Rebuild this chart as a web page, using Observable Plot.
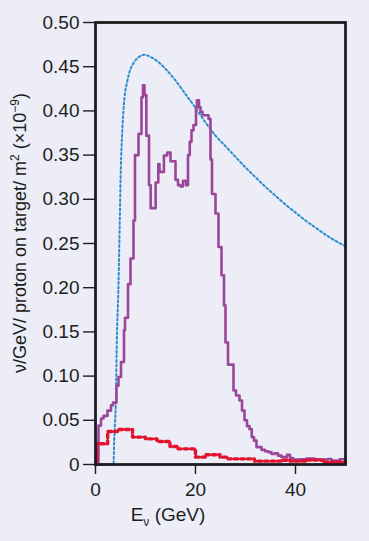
<!DOCTYPE html>
<html><head><meta charset="utf-8">
<script src="https://cdn.jsdelivr.net/npm/d3@7"></script>
<script src="https://cdn.jsdelivr.net/npm/@observablehq/plot@0.6"></script>
<style>
html,body{margin:0;padding:0;background:#ecedf6;}
#chart svg{display:block;}
</style></head><body><div id="chart"></div>
<script>
// Purple histogram: bin start energy (GeV) and value
const purpleEdges = [0.0,0.6,1.1,1.6,2.4,3.1,3.5,4.2,4.6,5.1,5.7,5.9,6.5,7.0,7.6,7.9,8.6,9.2,9.5,9.8,10.17,10.7,11.03,12.03,12.56,12.8,13.02,13.68,14.35,15.0,16.0,16.5,17.0,17.5,18.1,18.5,18.85,19.2,19.6,20.1,20.3,20.7,21.0,21.4,22.6,23.0,23.3,24.0,24.6,25.2,25.7,26.0,26.5,27.6,28.1,28.8,29.3,29.8,30.3,30.8,31.25,31.7,32.2,33.2,33.9,34.55,35.2,35.9,36.5,37.2,38.3,38.9,39.5,40.9,42.2,43.8,44.8,46.5,47.2,48.2,48.8,49.5];
const purpleValues = [0.003,0.044,0.052,0.055,0.061,0.067,0.070,0.089,0.099,0.116,0.152,0.166,0.204,0.233,0.276,0.350,0.374,0.4155,0.429,0.418,0.372,0.316,0.290,0.319,0.340,0.331,0.331,0.3496,0.353,0.343,0.322,0.316,0.3145,0.321,0.316,0.350,0.365,0.378,0.384,0.404,0.412,0.404,0.399,0.395,0.391,0.345,0.306,0.284,0.246,0.214,0.180,0.138,0.113,0.0837,0.078,0.0724,0.061,0.050,0.0434,0.040,0.031,0.027,0.0196,0.0166,0.015,0.014,0.012,0.0128,0.010,0.0083,0.011,0.0074,0.0057,0.006,0.0068,0.006,0.0057,0.0063,0.0045,0.004,0.006,0.006];
// Red histogram
const redEdges = [0.0,0.25,2.43,4.4,7.4,10.0,12.3,14.9,16.5,20.0,22.0,24.9,26.5,31.8,37.1,38.9,42.2,45.5];
const redValues = [0,0.0234,0.0373,0.0396,0.031,0.029,0.026,0.0204,0.0177,0.0083,0.011,0.0083,0.0064,0.0038,0.0048,0.0038,0.005,0.0025];
// Blue dotted curve
const blueE = [1.0,3.4,3.6,3.74,4.08,4.27,4.6,4.87,5.07,5.3,5.5,5.8,6.3,6.7,7.7,8.7,9.8,11,12,14,16,18,20,22,24,26,28,30,32,34,36,38,40,42,44,46,48,50];
const blueV = [0,0,0.001,0.027,0.076,0.14,0.204,0.28,0.336,0.37,0.393,0.415,0.432,0.442,0.455,0.461,0.4635,0.461,0.4578,0.4476,0.4344,0.419,0.4035,0.387,0.372,0.360,0.348,0.336,0.325,0.314,0.304,0.294,0.285,0.276,0.268,0.260,0.253,0.247];
// Ticks
const xTicks = [0,20,40];
const xTickLabels = ["0","20","40"];
const yTicks = [0,0.05,0.10,0.15,0.20,0.25,0.30,0.35,0.40,0.45,0.50];
const yTickLabels = ["0","0.05","0.10","0.15","0.20","0.25","0.30","0.35","0.40","0.45","0.50"];

const xMax = 50;
const purple = purpleEdges.map((e,i)=>({E:e, v:purpleValues[i]}));
purple.push({E:xMax, v:purpleValues[purpleValues.length-1]});
const red = redEdges.map((e,i)=>({E:e, v:redValues[i]}));
red.push({E:xMax, v:redValues[redValues.length-1]});
const blue = blueE.map((e,i)=>({E:e, v:blueV[i]}));

const font = "'Liberation Sans', Arial, sans-serif";
const ink = "#1d1d20";

const plot = Plot.plot({
  width: 369, height: 541,
  marginLeft: 95, marginRight: 24, marginTop: 22, marginBottom: 77,
  style: {background: "transparent", fontFamily: font, fontSize: "19px", color: ink},
  x: {domain: [0, xMax]},
  y: {domain: [0, 0.5]},
  marks: [
    Plot.line(blue, {x:"E", y:"v", curve:"monotone-x", stroke:"#2b8ccf", strokeWidth:2, strokeDasharray:"2,2.6"}),
    Plot.line(purple, {x:"E", y:"v", curve:"step-after", stroke:"#9a4699", strokeWidth:2.6}),
    Plot.line(red, {x:"E", y:"v", curve:"step-after", stroke:ink, strokeWidth:0.8}),
    Plot.line(red, {x:"E", y:"v", curve:"step-after", stroke:"#e3122d", strokeWidth:3.4, strokeDasharray:"3.5,3"}),
    Plot.axisX({ticks: xTicks, tickFormat: (d)=>xTickLabels[xTicks.indexOf(d)], tickSize: 10, tickPadding: 8, label: null, strokeWidth: 1.4, fontSize: 19}),
    Plot.axisY({ticks: yTicks, tickFormat: (d)=>yTickLabels[yTicks.indexOf(d)], tickSize: 12, tickPadding: 4, label: null, strokeWidth: 1.4, fontSize: 19}),
    Plot.frame({stroke: ink, strokeWidth: 2.8})
  ]
});
document.getElementById("chart").appendChild(plot);

const svg = d3.select(plot);
// x-axis label: E_ν (GeV)
const xl = svg.append("text").attr("x", 168).attr("y", 521)
  .attr("font-family", font).attr("font-size", 19).attr("fill", ink);
xl.append("tspan").text("E");
xl.append("tspan").attr("font-size", 12).attr("dy", 5).text("ν");
xl.append("tspan").attr("dy", -5).text(" (GeV)");

// y-axis label
const yl = svg.append("text").attr("transform", "translate(26,233) rotate(-90)")
  .attr("text-anchor", "middle").attr("font-family", font).attr("font-size", 18).attr("fill", ink);
yl.append("tspan").text("ν/GeV/ proton on target/ m");
yl.append("tspan").attr("font-size", 12).attr("dy", -7).text("2");
yl.append("tspan").attr("dy", 7).text(" (×10");
yl.append("tspan").attr("font-size", 12).attr("dy", -7).text("−9");
yl.append("tspan").attr("dy", 7).text(")");
</script></body></html>
